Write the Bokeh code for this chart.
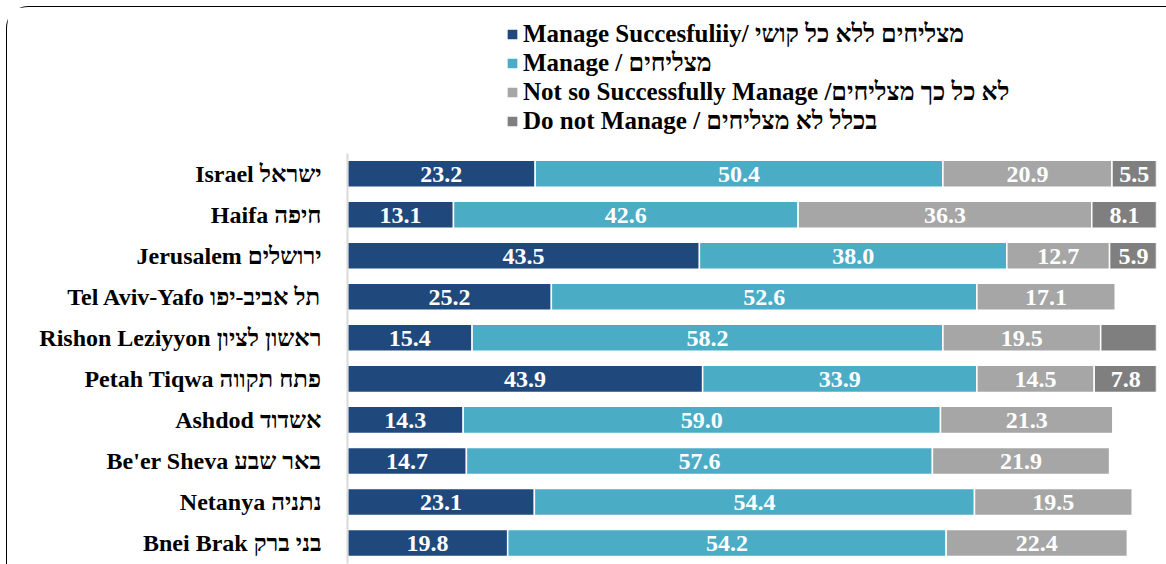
from bokeh.plotting import figure
from bokeh.models import (ColumnDataSource, Range1d, Legend, LegendItem, FixedTicker)
from bokeh.core.properties import value
from bokeh.embed import file_html
from bokeh.resources import INLINE

categories = ["Israel ישראל", "Haifa חיפה", "Jerusalem ירושלים",
              "Tel Aviv-Yafo תל אביב-יפו", "Rishon Leziyyon ראשון לציון",
              "Petah Tiqwa פתח תקווה", "Ashdod אשדוד", "Be'er Sheva באר שבע",
              "Netanya נתניה", "Bnei Brak בני ברק"]

manage_successfully = [23.2, 13.1, 43.5, 25.2, 15.4, 43.9, 14.3, 14.7, 23.1, 19.8]
manage = [50.4, 42.6, 38.0, 52.6, 58.2, 33.9, 59.0, 57.6, 54.4, 54.2]
not_so_successfully = [20.9, 36.3, 12.7, 17.1, 19.5, 14.5, 21.3, 21.9, 19.5, 22.4]
do_not_manage = [5.5, 8.1, 5.9, None, 6.9, 7.8, None, None, None, None]
do_not_manage_labelled = [True, True, True, False, False, True, False, False, False, False]

series_names = ["Manage Succesfuliiy/ מצליחים ללא כל קושי",
                "Manage / מצליחים",
                "Not so Successfully Manage /לא כל כך מצליחים",
                "Do not Manage / בכלל לא מצליחים"]
series_values = [manage_successfully, manage, not_so_successfully, do_not_manage]
series_colors = ["#1F497D", "#4BACC6", "#A6A6A6", "#7F7F7F"]

FONT = "Liberation Serif, Liberation Sans, DejaVu Sans"

n = len(categories)
pos = {cat: (n - 1 - i) for i, cat in enumerate(categories)}  # Israel on top

p = figure(width=1160, height=558, output_backend="svg", toolbar_location=None,
           y_range=Range1d(-0.5, 13.05), x_range=Range1d(0, 100),
           min_border_left=340, min_border_right=11, min_border_top=0,
           min_border_bottom=2)
p.outline_line_color = None
p.xgrid.visible = False
p.ygrid.visible = False
p.xaxis.visible = False
p.styles = {"border-left": "1.5px solid black", "border-top": "1.5px solid black",
            "border-top-left-radius": "22px", "box-sizing": "border-box",
            "margin-left": "6px", "margin-top": "6px"}

yax = p.yaxis[0]
yax.ticker = FixedTicker(ticks=[pos[c] for c in categories])
yax.major_label_overrides = {pos[c]: c for c in categories}
yax.bounds = (-0.5, n - 0.5)
yax.axis_line_color = "#D9D9D9"
yax.axis_line_width = 2
yax.major_tick_line_color = None
yax.minor_tick_line_color = None
yax.major_label_standoff = 20
yax.major_label_text_font = FONT
yax.major_label_text_font_style = "bold"
yax.major_label_text_font_size = "24px"
yax.major_label_text_color = "#000000"

left = [0.0] * n
items = []
for si, (name, vals, col) in enumerate(zip(series_names, series_values, series_colors)):
    ys, ls, rs, tx, ty, tt = [], [], [], [], [], []
    for ci, cat in enumerate(categories):
        v = vals[ci]
        if v is None:
            continue
        ys.append(pos[cat])
        ls.append(left[ci])
        rs.append(left[ci] + v)
        show = do_not_manage_labelled[ci] if si == 3 else True
        if show:
            tx.append(left[ci] + v / 2)
            ty.append(pos[cat])
            tt.append(f"{v:.1f}")
        left[ci] += v
    src = ColumnDataSource(dict(y=ys, left=ls, right=rs))
    r = p.hbar(y="y", left="left", right="right", height=0.66, source=src,
               fill_color=col, line_color="white", line_width=1.5)
    items.append(LegendItem(label=name, renderers=[r]))
    lsrc = ColumnDataSource(dict(x=tx, y=ty, t=tt))
    p.text(x="x", y="y", text="t", source=lsrc, text_align="center",
           text_baseline="middle", text_color="white", text_font=value(FONT),
           text_font_style="bold", text_font_size="24px", y_offset=1)

legend = Legend(items=items, location=(158, 428), orientation="vertical",
                label_text_font=FONT, label_text_font_style="bold",
                label_text_font_size="25px", label_text_color="#000000",
                glyph_width=14, glyph_height=14, label_height=20, spacing=1,
                padding=0, margin=0, border_line_color=None,
                background_fill_alpha=0, label_standoff=4)
p.add_layout(legend, "center")

open("out.html", "w").write(file_html(p, INLINE))
